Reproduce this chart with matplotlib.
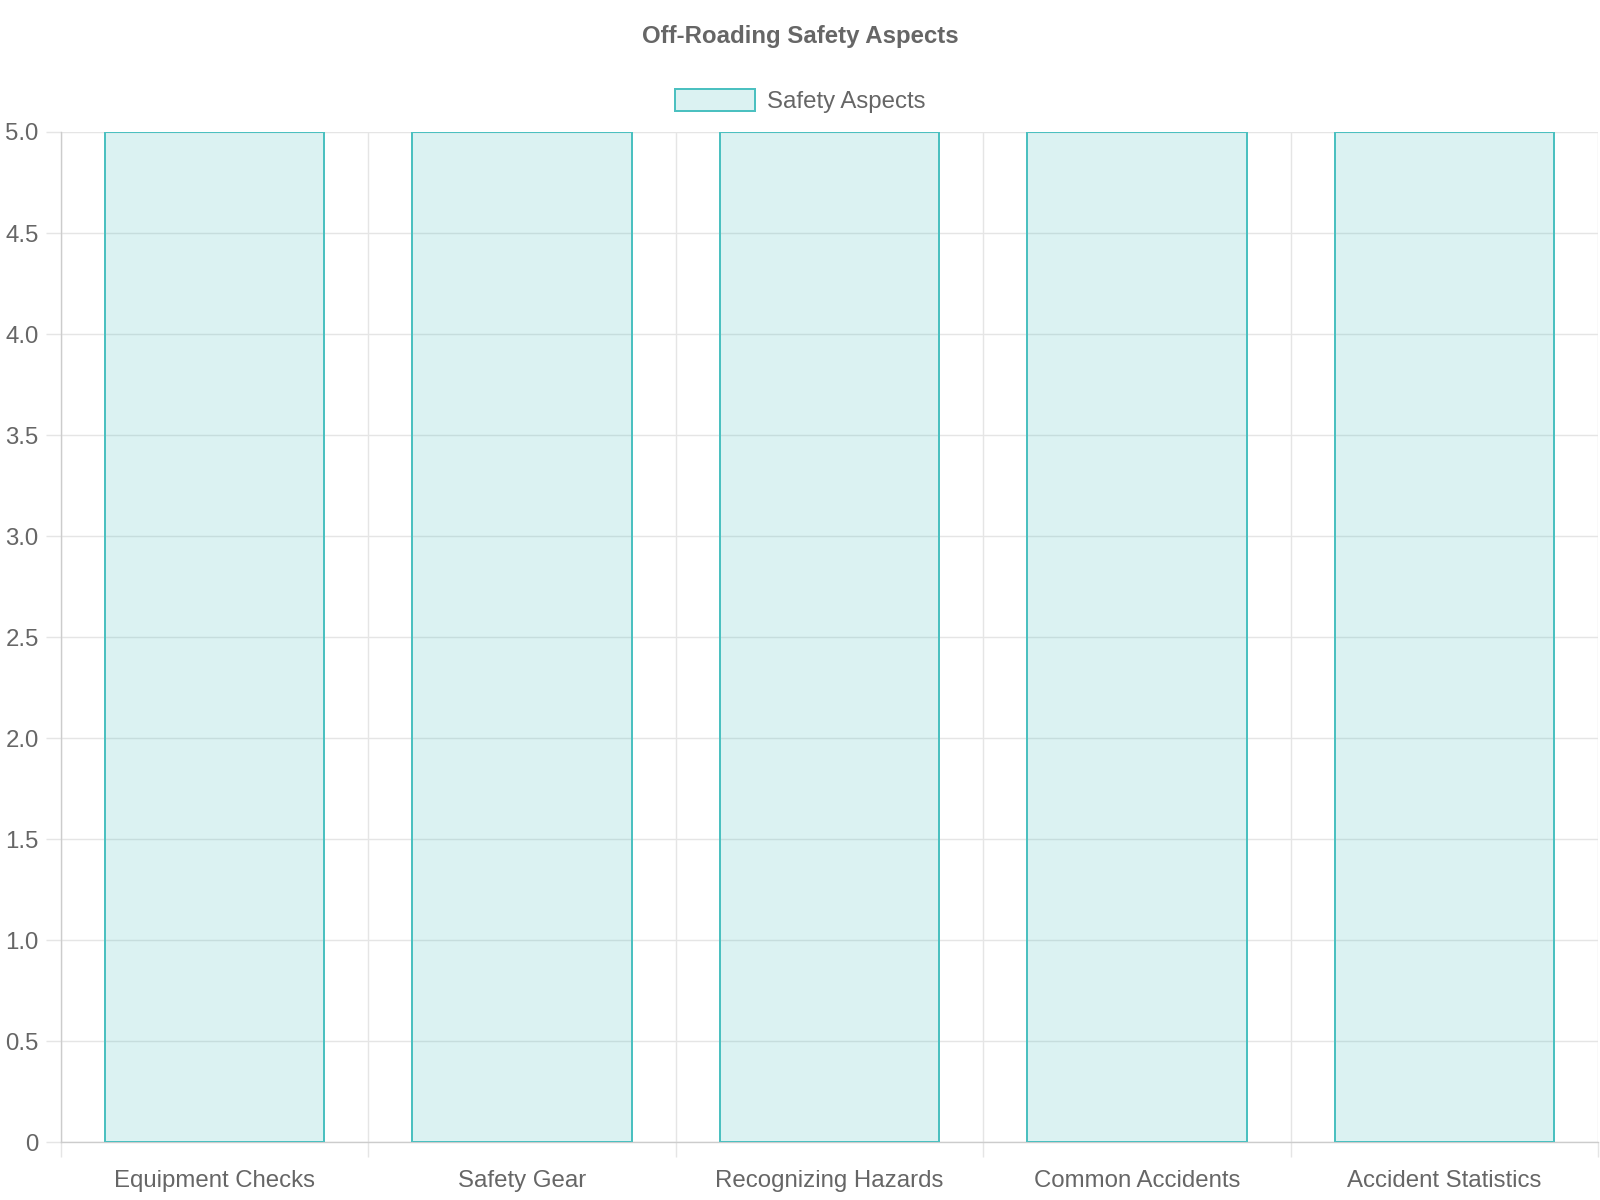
import matplotlib.pyplot as plt
from matplotlib.ticker import FixedLocator, FuncFormatter

plt.rcParams['font.family'] = ['Liberation Sans', 'DejaVu Sans']

categories = ['Equipment Checks', 'Safety Gear', 'Recognizing Hazards',
              'Common Accidents', 'Accident Statistics']
values = [5, 5, 5, 5, 5]
y_ticks = [0, 0.5, 1.0, 1.5, 2.0, 2.5, 3.0, 3.5, 4.0, 4.5, 5.0]

text_color = '#666666'
grid_color = '#e5e5e5'
border = (75/255, 192/255, 192/255, 1.0)
fill = (75/255, 192/255, 192/255, 0.2)

fig = plt.figure(figsize=(16, 12), dpi=100)
ax = fig.add_axes([0.038, 0.0483, 0.961, 0.8417])

x = list(range(len(categories)))
ax.bar(x, values, width=0.714, color=fill, edgecolor=border, linewidth=1.44,
       label='Safety Aspects', zorder=3)

ax.set_xlim(-0.5, len(categories) - 0.5)
ax.set_ylim(0, 5)

# category labels on major ticks, grid lines on category boundaries
ax.set_xticks(x)
ax.set_xticklabels(categories)
ax.xaxis.set_minor_locator(FixedLocator([i - 0.5 for i in range(len(categories) + 1)]))
ax.tick_params(axis='x', which='major', length=0, pad=20, labelsize=17.3,
               labelcolor=text_color)
ax.tick_params(axis='x', which='minor', length=10.8, width=1, color=grid_color)
ax.grid(axis='x', which='minor', color=grid_color, linewidth=1, zorder=0)

ax.set_yticks(y_ticks)
ax.yaxis.set_major_formatter(FuncFormatter(lambda v, p: '0' if v == 0 else f'{v:.1f}'))
ax.tick_params(axis='y', length=10.8, width=1, color=grid_color, pad=5,
               labelsize=17.3, labelcolor=text_color)
ax.grid(axis='y', color=grid_color, linewidth=1, zorder=0)

for side in ['top', 'right']:
    ax.spines[side].set_visible(False)
for side in ['left', 'bottom']:
    ax.spines[side].set_color('#cccccc')
    ax.spines[side].set_linewidth(1)

fig.text(0.5, 0.970, 'Off-Roading Safety Aspects', ha='center', va='center',
         fontsize=17.3, fontweight='bold', color=text_color)

fig.legend(loc='center', bbox_to_anchor=(0.5, 0.9155), frameon=False,
           fontsize=17.3, labelcolor=text_color, handlelength=3.33,
           handleheight=1.0, handletextpad=0.5)

fig.savefig('out.png', dpi=100)
